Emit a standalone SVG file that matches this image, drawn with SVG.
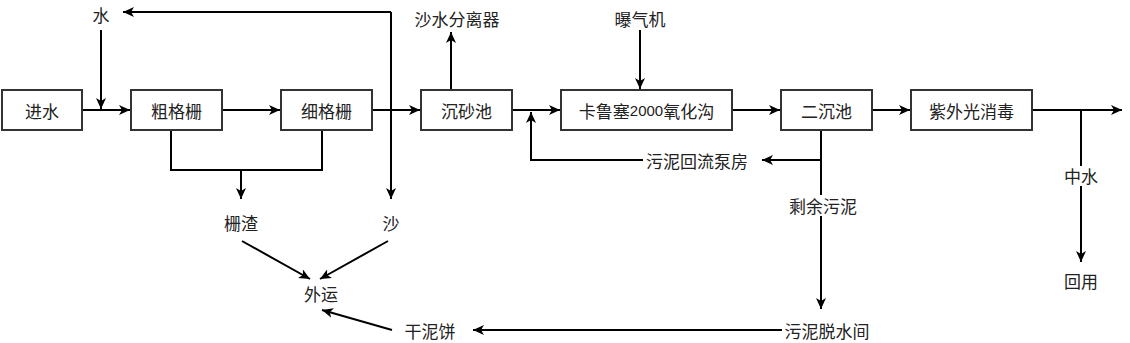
<svg xmlns="http://www.w3.org/2000/svg" width="1130" height="343" viewBox="0 0 1130 343">
<style>
.box{fill:#fff;stroke:#333;stroke-width:2}
.ln{fill:none;stroke:#000;stroke-width:2}
.t{font-family:"Noto Sans CJK SC","Liberation Sans",sans-serif;font-size:17px;fill:#222;text-anchor:middle;dominant-baseline:central}
.bg{fill:#fff}
</style>
<defs>
<marker id="ah" markerWidth="12" markerHeight="10" refX="11" refY="5" orient="auto" markerUnits="userSpaceOnUse">
<path d="M0,0 L11,5 L0,10 L3,5 Z" fill="#000"/>
</marker>
</defs>
<rect width="1130" height="343" fill="#fff"/>
<g id="connectors">
<path class="ln" d="M82,110 L130,110" marker-end="url(#ah)"/>
<path class="ln" d="M101,30 L101,109" marker-end="url(#ah)"/>
<path class="ln" d="M222,110 L280,110" marker-end="url(#ah)"/>
<path class="ln" d="M372,110 L420,110" marker-end="url(#ah)"/>
<path class="ln" d="M391,12 L123,12" marker-end="url(#ah)"/>
<path class="ln" d="M391,12 L391,199" marker-end="url(#ah)"/>
<path class="ln" d="M451,90 L451,32" marker-end="url(#ah)"/>
<path class="ln" d="M512,110 L560,110" marker-end="url(#ah)"/>
<path class="ln" d="M640,30 L640,89" marker-end="url(#ah)"/>
<path class="ln" d="M732,110 L780,110" marker-end="url(#ah)"/>
<path class="ln" d="M872,110 L910,110" marker-end="url(#ah)"/>
<path class="ln" d="M1032,110 L1122,110" marker-end="url(#ah)"/>
<path class="ln" d="M1081,110 L1081,262" marker-end="url(#ah)"/>
<path class="ln" d="M821,130 L821,309" marker-end="url(#ah)"/>
<path class="ln" d="M821,160 L762,160" marker-end="url(#ah)"/>
<path class="ln" d="M643,160 L531,160 L531,112" marker-end="url(#ah)"/>
<path class="ln" d="M171,130 L171,170 L322,170 L322,130"/>
<path class="ln" d="M241,170 L241,199" marker-end="url(#ah)"/>
<path class="ln" d="M242,241 L310,279" marker-end="url(#ah)"/>
<path class="ln" d="M388,241 L320,279" marker-end="url(#ah)"/>
<path class="ln" d="M782,330 L473,330" marker-end="url(#ah)"/>
<path class="ln" d="M392,330 L322,310" marker-end="url(#ah)"/>
</g>
<g id="n-jinshui"><rect class="box" x="2" y="90" width="80" height="40"/><text class="t" x="42" y="110">进水</text></g>
<g id="n-cugeshan"><rect class="box" x="131" y="90" width="91" height="40"/><text class="t" x="176.5" y="110">粗格栅</text></g>
<g id="n-xigeshan"><rect class="box" x="281" y="90" width="91" height="40"/><text class="t" x="326.5" y="110">细格栅</text></g>
<g id="n-chenshachi"><rect class="box" x="421" y="90" width="91" height="40"/><text class="t" x="466.5" y="110">沉砂池</text></g>
<g id="n-kalusai"><rect class="box" x="561" y="90" width="171" height="40"/><text class="t" x="646.5" y="110">卡鲁塞<tspan font-family="Liberation Sans" font-size="15">2000</tspan>氧化沟</text></g>
<g id="n-erchenchi"><rect class="box" x="781" y="90" width="91" height="40"/><text class="t" x="826.5" y="110">二沉池</text></g>
<g id="n-ziwai"><rect class="box" x="911" y="90" width="121" height="40"/><text class="t" x="971.5" y="110">紫外光消毒</text></g>
<g id="n-shui"><text class="t" x="101" y="14">水</text></g>
<g id="n-shashuifenliqi"><text class="t" x="457" y="18">沙水分离器</text></g>
<g id="n-puqiji"><text class="t" x="640" y="18">曝气机</text></g>
<g id="n-zhazha"><text class="t" x="241" y="222">栅渣</text></g>
<g id="n-sha"><text class="t" x="391" y="222">沙</text></g>
<g id="n-waiyun"><text class="t" x="321" y="293">外运</text></g>
<g id="n-huiliu"><text class="t" x="697" y="160">污泥回流泵房</text></g>
<g id="n-shengyu"><rect class="bg" x="786" y="195" width="74" height="21"/><text class="t" x="823" y="205">剩余污泥</text></g>
<g id="n-zhongshui"><rect class="bg" x="1062" y="166" width="38" height="20"/><text class="t" x="1081" y="175">中水</text></g>
<g id="n-huiyong"><text class="t" x="1081" y="280">回用</text></g>
<g id="n-tuoshui"><text class="t" x="827" y="330">污泥脱水间</text></g>
<g id="n-ganniebing"><text class="t" x="430" y="330">干泥饼</text></g>
</svg>
